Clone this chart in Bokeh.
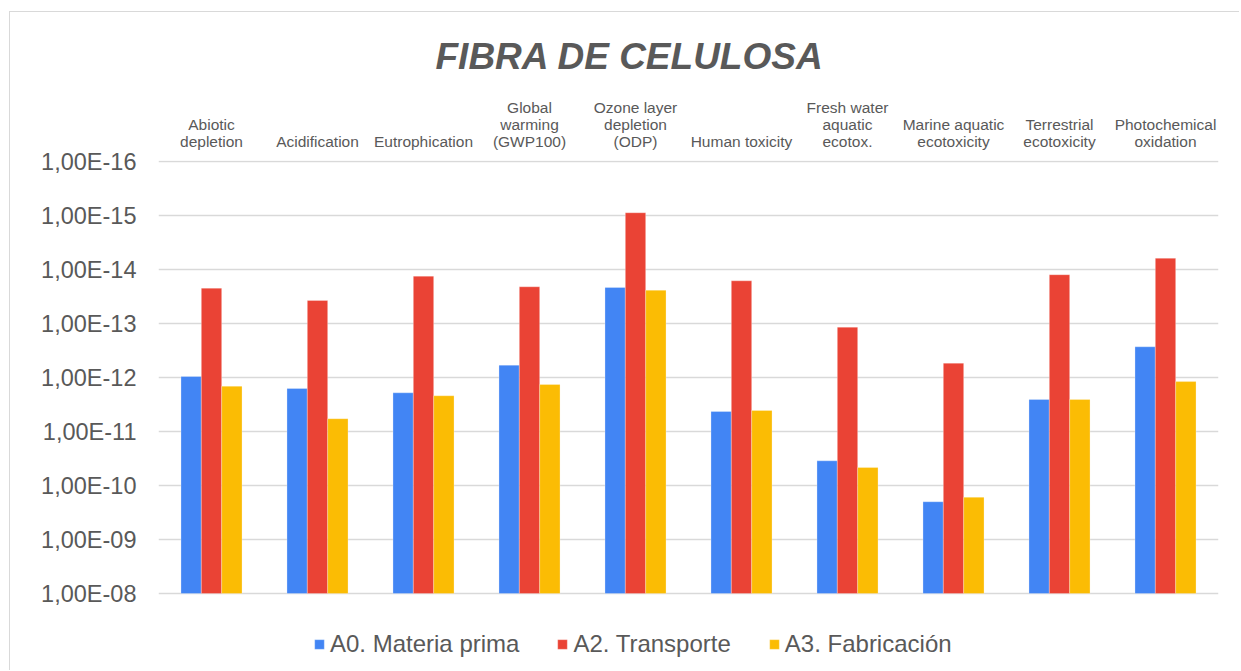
from bokeh.plotting import figure
from bokeh.models import (Range1d, FactorRange, FixedTicker, CustomJSTickFormatter,
                          Legend, LegendItem, ColumnDataSource)
from bokeh.transform import dodge
from bokeh.embed import file_html
from bokeh.resources import INLINE

# ---------------- data ----------------
title_text = "FIBRA DE CELULOSA"
categories = ["Abiotic\ndepletion", "Acidification", "Eutrophication",
              "Global\nwarming\n(GWP100)", "Ozone layer\ndepletion\n(ODP)",
              "Human toxicity", "Fresh water\naquatic\necotox.",
              "Marine aquatic\necotoxicity", "Terrestrial\necotoxicity",
              "Photochemical\noxidation"]
series_names = ["A0. Materia prima", "A2. Transporte", "A3. Fabricación"]
a0_materia = [9.6e-13, 1.6e-12, 1.92e-12, 5.9e-13, 2.15e-14, 4.27e-12, 3.49e-11, 2.0e-10, 2.55e-12, 2.7e-13]
a2_transporte = [2.22e-14, 3.75e-14, 1.33e-14, 2.09e-14, 8.9e-16, 1.62e-14, 1.17e-13, 5.43e-13, 1.25e-14, 6.2e-15]
a3_fabricacion = [1.45e-12, 5.8e-12, 2.18e-12, 1.35e-12, 2.42e-14, 4.08e-12, 4.65e-11, 1.65e-10, 2.55e-12, 1.19e-12]
y_ticks = [1e-16, 1e-15, 1e-14, 1e-13, 1e-12, 1e-11, 1e-10, 1e-09, 1e-08]
base_value = 1e-08

colors = ["#4285F4", "#EA4335", "#FBBC04"]
text_color = "#595959"
font = "Liberation Sans"

# layout (pixels)
fig_w, fig_h = 1230, 659
border_left, border_right, border_top, border_bottom = 148, 22, 148, 5
px_per_decade = 54.0
frame_h = fig_h - border_top - border_bottom
top_exp = -16 - 1.0 / px_per_decade          # one pixel above the 1E-16 line
bottom_exp = top_exp + frame_h / px_per_decade  # frame extends below 1E-08 to hold the legend

src = ColumnDataSource(dict(cat=categories, a0=a0_materia, a2=a2_transporte,
                            a3=a3_fabricacion, base=[base_value] * len(categories)))

p = figure(width=fig_w, height=fig_h, output_backend="svg", toolbar_location=None,
           x_range=FactorRange(factors=categories, range_padding=0),
           y_range=Range1d(start=10 ** bottom_exp, end=10 ** top_exp),
           y_axis_type="log", x_axis_location="above",
           min_border_left=border_left, min_border_right=border_right,
           min_border_top=border_top, min_border_bottom=border_bottom)
p.outline_line_color = None
p.background_fill_color = "white"
p.border_fill_color = "white"
p.styles = {"margin-left": "9px", "margin-top": "11px",
            "border-left": "1px solid #d9d9d9", "border-top": "1px solid #d9d9d9"}

# title
p.title.text = title_text
p.title.align = "left"
p.title.offset = 277
p.title.standoff = 40
p.title.vertical_align = "bottom"
p.title.text_font = font
p.title.text_font_size = "37px"
p.title.text_font_style = "bold italic"
p.title.text_color = text_color

bw = 0.192
renderers = []
for i, (col, c) in enumerate(zip(["a0", "a2", "a3"], colors)):
    r = p.vbar(x=dodge("cat", (i - 1) * bw, range=p.x_range), top=col, bottom="base",
               width=bw, source=src, fill_color=c, line_color="white", line_alpha=0.35,
               line_width=0.8)
    renderers.append(r)

# grid
p.xgrid.grid_line_color = None
p.ygrid.grid_line_color = "#d9d9d9"
p.ygrid.grid_line_width = 1.5
p.ygrid.ticker = FixedTicker(ticks=y_ticks)

# y axis
yax = p.yaxis[0]
yax.ticker = FixedTicker(ticks=y_ticks, minor_ticks=[])
yax.formatter = CustomJSTickFormatter(code="""
const e = Math.round(Math.log10(tick));
const s = Math.abs(e).toString().padStart(2, '0');
return '1,00E' + (e < 0 ? '-' : '+') + s;
""")
yax.axis_line_color = None
yax.major_tick_line_color = None
yax.minor_tick_line_color = None
yax.major_tick_out = 0
yax.major_label_standoff = 22
yax.major_label_text_font = font
yax.major_label_text_font_size = "23.5px"
yax.major_label_text_color = text_color

# x axis (top)
xax = p.xaxis[0]
xax.axis_line_color = None
xax.major_tick_line_color = None
xax.major_tick_out = 0
xax.major_label_standoff = 11
xax.major_label_text_font = font
xax.major_label_text_font_size = "15.5px"
xax.major_label_text_line_height = 0.98
xax.major_label_text_color = text_color

# legend (inside the lower, empty part of the frame)
legend = Legend(items=[LegendItem(label=n, renderers=[r]) for n, r in zip(series_names, renderers)],
                orientation="horizontal", location=(155, 8), padding=0, margin=0,
                spacing=37, label_standoff=5, glyph_width=12, glyph_height=12,
                label_height=26, border_line_color=None, background_fill_alpha=0,
                label_text_font=font, label_text_font_size="24px",
                label_text_color=text_color)
p.add_layout(legend)

open("out.html", "w").write(file_html(p, INLINE))
